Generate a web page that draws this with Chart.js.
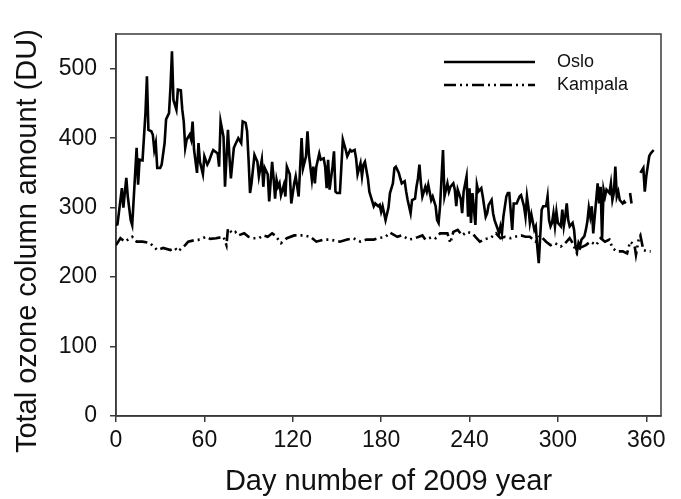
<!DOCTYPE html>
<html>
<head>
<meta charset="utf-8">
<script src="https://cdn.jsdelivr.net/npm/chart.js@4.4.0/dist/chart.umd.min.js"></script>
<style>
  html, body { margin: 0; padding: 0; background: #fff; }
</style>
</head>
<body>
<canvas id="ozone" width="681" height="499"></canvas>
<script>
// daily total ozone (null = missing days)
const osloDays = [0, 1, 4, 5, 7, 8, 10, 11, 14, 15, 16, 18, 20, 21, 22, 24, 25, 26, 27, 28, 30, 31, 33, 34, 36, 37, 38, 39, 41, 42, 44, 45, 46, 47, 48, 50, 51, 52, 53, 55, 56, 57, 59, 60, 62, 63, 65, 66, 69, 70, 71, 73, 74, 76, 77, 78, 80, 81, 83, 85, 86, 88, 89, 90, 91, 92, 94, 96, 97, 99, 100, 101, 103, 104, 106, 107, 108, 109, 110, 111, 112, 114, 115, 116, 118, 119, 121, 122, 124, 125, 126, 127, 129, 130, 131, 133, 134, 135, 136, 138, 139, 141, 142, 143, 144, 145, 147, 148, 149, 150, 152, 153, 154, 156, 157, 159, 160, 162, 163, 164, 166, 167, 168, 169, 171, 172, 173, 175, 176, 178, 179, 180, 181, 183, 185, 186, 188, 189, 190, 192, 193, 194, 196, 197, 198, 200, 201, 203, 204, 205, 206, 207, 208, 210, 211, 212, 214, 215, 217, 218, 219, 220, 222, 223, 225, 226, 227, 229, 230, 231, 232, 234, 235, 236, 238, 239, 240, 241, 242, 244, 245, 246, 248, 249, 251, 252, 253, 255, 256, 257, 259, 260, 261, 262, 263, 265, 266, 267, 269, 270, 272, 273, 274, 275, 277, 278, 279, 280, 281, 282, 284, 285, 286, 287, 288, 289, 290, 292, 293, 294, 295, 296, 297, 298, 299, 300, 302, 303, 304, 305, 306, 307, 308, 310, 311, 312, 313, 314, 315, 316, 318, 319, 320, 321, 322, 323, 324, 325, 327, 328, 329, 330, 331, 332, 333, 335, 336, 337, 338, 339, 340, 341, 342, 344, 345, 346, 347, 349, 350, 352, 356, 358, 359, 360, 362, 363, 365];
const osloDU = [275, 276, 328, 300, 343, 316, 282, 275, 386, 333, 369, 368, 436, 489, 412, 410, 405, 383, 393, 357, 357, 362, 393, 427, 436, 474, 525, 455, 441, 470, 469, 441, 424, 386, 398, 405, 398, 424, 383, 350, 393, 366, 348, 374, 362, 366, 378, 383, 378, 359, 424, 402, 330, 412, 374, 342, 386, 391, 400, 393, 424, 422, 410, 369, 321, 335, 376, 366, 345, 369, 330, 357, 348, 309, 366, 342, 313, 340, 330, 335, 318, 333, 316, 359, 348, 306, 335, 345, 316, 357, 400, 357, 374, 410, 376, 340, 359, 335, 359, 378, 369, 371, 359, 328, 369, 326, 359, 381, 323, 321, 321, 359, 398, 383, 374, 383, 381, 383, 371, 348, 364, 345, 362, 366, 342, 323, 316, 302, 306, 302, 304, 294, 302, 282, 300, 321, 335, 357, 359, 350, 342, 335, 338, 323, 311, 292, 311, 313, 330, 342, 362, 335, 316, 330, 323, 333, 311, 316, 302, 282, 278, 302, 383, 316, 335, 323, 330, 335, 326, 302, 326, 313, 292, 323, 345, 287, 328, 278, 321, 275, 333, 323, 328, 316, 287, 292, 304, 311, 292, 282, 270, 263, 273, 263, 287, 316, 321, 321, 268, 306, 306, 311, 316, 318, 302, 287, 316, 300, 278, 290, 268, 273, 244, 220, 259, 297, 302, 302, 316, 282, 273, 278, 292, 273, 294, 278, 273, 297, 273, 287, 306, 282, 273, 278, 268, 244, 237, 249, 244, 254, 259, 268, 280, 300, 287, 302, 263, 287, 335, 306, 330, 254, 326, 316, 326, 321, 335, 311, 321, 359, 316, 323, 311, 306, 309, 306, null, 321, 306, null, 350, 357, 323, 345, 374, 378, 383];

const kampalaDays = [0, 3, 6, 11, 14, 18, 23, 28, 32, 37, 40, 42, 47, 49, 53, 57, 61, 64, 68, 73, 75, 76, 79, 81, 83, 87, 90, 93, 97, 100, 103, 106, 108, 112, 116, 121, 124, 127, 132, 136, 141, 145, 152, 157, 161, 166, 170, 175, 178, 183, 186, 191, 194, 199, 203, 208, 210, 215, 217, 220, 225, 227, 229, 232, 235, 238, 242, 244, 247, 251, 254, 258, 261, 264, 268, 271, 275, 278, 281, 285, 288, 292, 295, 298, 302, 305, 308, 310, 313, 315, 319, 322, 326, 329, 332, 335, 337, 340, 344, 347, 349, 352, 353, 355, 356, 358, 361, 363];
const kampalaDU = [246, 256, 251, 258, 251, 251, 249, 239, 242, 239, 242, 237, 246, 251, 253, 254, 258, 255, 256, 258, 246, 270, 263, 265, 260, 263, 258, 256, 256, 260, 258, 263, 260, 249, 256, 260, 260, 260, 258, 251, 254, 254, 251, 254, 256, 251, 254, 254, 256, 258, 264, 258, 260, 254, 256, 260, 254, 258, 256, 263, 263, 249, 265, 268, 260, 265, 263, 258, 251, 255, 256, 263, 256, 258, 256, 258, 260, 258, 258, 251, 260, 251, 246, 249, 244, 249, 256, 249, 234, 242, 246, 251, 246, 256, 251, 254, 242, 237, 237, 234, 251, 246, 232, 256, 260, 239, 237, 237];

const xTicks = [0, 60, 120, 180, 240, 300, 360];
const yTicks = [0, 100, 200, 300, 400, 500];

const axisColor = "#3a3a3a";
const fontFamily = "'Liberation Sans', Arial, sans-serif";

const toPoints = (days, values) => days.map((d, i) => ({ x: d, y: values[i] }));

// frame around the plot and the legend inside it
const frameAndLegend = {
	id: "frameAndLegend",
	beforeDatasetsDraw(chart) {
		const { ctx, chartArea: a } = chart;
		ctx.save();
		ctx.strokeStyle = axisColor;
		ctx.lineWidth = 1.5;
		ctx.strokeRect(a.left, a.top, a.right - a.left, a.bottom - a.top);
		ctx.restore();
	},
	afterDatasetsDraw(chart) {
		const { ctx, chartArea: a } = chart;
		ctx.save();
		chart.data.datasets.forEach((ds, i) => {
			const y = a.top + 28 + i * 23;
			ctx.strokeStyle = ds.borderColor;
			ctx.lineWidth = ds.borderWidth;
			ctx.setLineDash(ds.borderDash || []);
			ctx.beginPath();
			ctx.moveTo(a.left + 328, y);
			ctx.lineTo(a.left + 419, y);
			ctx.stroke();
			ctx.setLineDash([]);
			ctx.fillStyle = "#111";
			ctx.font = "18px " + fontFamily;
			ctx.textBaseline = "middle";
			ctx.fillText(ds.label, a.left + 441, y);
		});
		ctx.restore();
	},
};

new Chart(document.getElementById("ozone"), {
	type: "line",
	data: {
		datasets: [
			{
				label: "Oslo",
				data: toPoints(osloDays, osloDU),
				borderColor: "#000",
				borderWidth: 2.6,
				pointRadius: 0,
				tension: 0,
				spanGaps: false,
			},
			{
				label: "Kampala",
				data: toPoints(kampalaDays, kampalaDU),
				borderColor: "#000",
				borderWidth: 2.6,
				borderDash: [12, 4, 2, 4, 2, 4],
				pointRadius: 0,
				tension: 0,
			},
		],
	},
	options: {
		responsive: false,
		animation: false,
		devicePixelRatio: 1,
		layout: { padding: { left: 0, top: 34, right: 20, bottom: 0 } },
		plugins: { legend: { display: false }, tooltip: { enabled: false } },
		scales: {
			x: {
				type: "linear",
				min: 0,
				max: 370,
				afterBuildTicks: (scale) => {
					scale.ticks = xTicks.map((v) => ({ value: v }));
				},
				afterFit: (scale) => {
					scale.height = 83;
				},
				ticks: { color: "#111", padding: 5, font: { family: fontFamily, size: 23 } },
				grid: { drawOnChartArea: false, tickLength: 6, color: axisColor, lineWidth: 1.5 },
				border: { color: axisColor, width: 1.5 },
				title: {
					display: true,
					text: "Day number of 2009 year",
					color: "#111",
					font: { family: fontFamily, size: 29 },
					padding: { top: 0, bottom: 0 },
				},
			},
			y: {
				min: 0,
				max: 550,
				afterBuildTicks: (scale) => {
					scale.ticks = yTicks.map((v) => ({ value: v }));
				},
				afterFit: (scale) => {
					scale.width = 116;
				},
				ticks: { color: "#111", padding: 13, font: { family: fontFamily, size: 23 } },
				grid: { drawOnChartArea: false, tickLength: 6, color: axisColor, lineWidth: 1.5 },
				border: { color: axisColor, width: 1.5 },
				title: {
					display: true,
					// trailing spaces push the rotated title a little lower, as in the original
					text: "Total ozone column amount (DU)    ",
					color: "#111",
					font: { family: fontFamily, size: 29 },
					padding: { top: 11, bottom: 0 },
				},
			},
		},
	},
	plugins: [frameAndLegend],
});
</script>
</body>
</html>
